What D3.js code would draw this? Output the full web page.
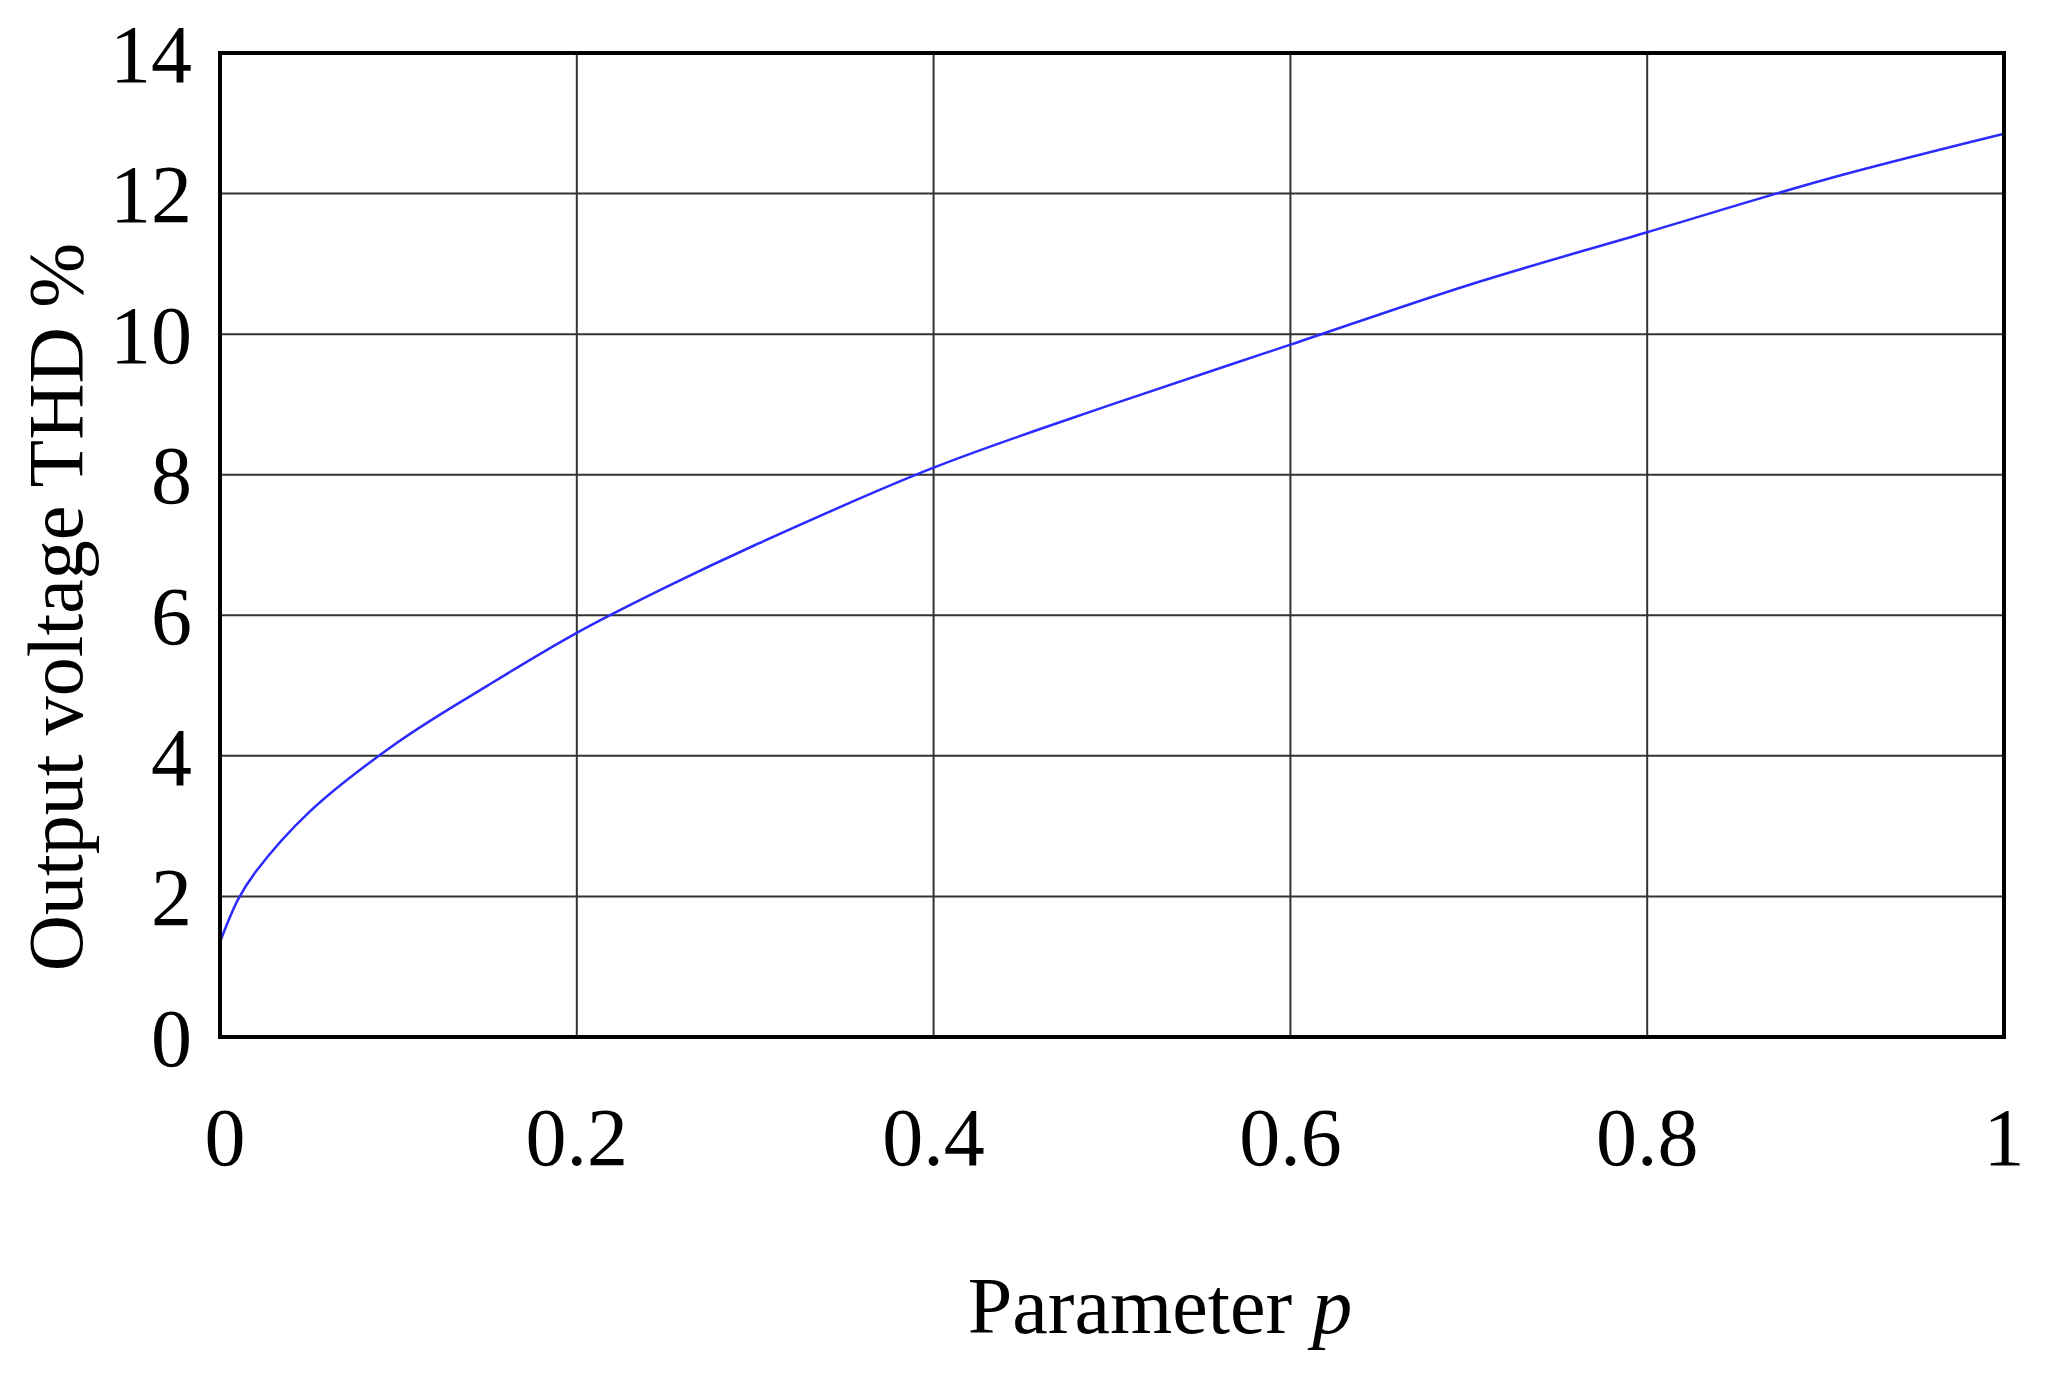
<!DOCTYPE html>
<html><head><meta charset="utf-8">
<script src="https://cdn.jsdelivr.net/npm/d3@7"></script>
<style>body{margin:0;background:#fff}</style>
</head><body><svg id="c" width="2066" height="1393"></svg>
<script>
var pValues = [0, 0.01, 0.02, 0.05, 0.1, 0.15, 0.2, 0.25, 0.3, 0.4, 0.5, 0.6, 0.7, 0.8, 0.9, 1.0];
var thdValues = [1.35, 1.95, 2.35, 3.2, 4.2, 5.0, 5.75, 6.4, 7.0, 8.1, 9.0, 9.85, 10.7, 11.45, 12.2, 12.85];
var xTicks = [0, 0.2, 0.4, 0.6, 0.8, 1];
var yTicks = [0, 2, 4, 6, 8, 10, 12, 14];

var margin = {top: 53, right: 62, bottom: 356, left: 220},
    width = 2066 - margin.left - margin.right,
    height = 1393 - margin.top - margin.bottom;

var svg = d3.select("#c");
var g = svg.append("g").attr("transform", "translate(" + margin.left + "," + margin.top + ")");

var x = d3.scaleLinear().domain([0, 1]).range([0, width]);
var y = d3.scaleLinear().domain([0, 14]).range([height, 0]);
var font = "'Liberation Serif', 'DejaVu Serif', serif";

// grid
g.selectAll(".vg").data(xTicks).enter().append("line")
    .attr("x1", d => x(d)).attr("x2", d => x(d)).attr("y1", 0).attr("y2", height)
    .attr("stroke", "#333").attr("stroke-width", 2);
g.selectAll(".hg").data(yTicks).enter().append("line")
    .attr("x1", 0).attr("x2", width).attr("y1", d => y(d)).attr("y2", d => y(d))
    .attr("stroke", "#333").attr("stroke-width", 2);

// curve
var line = d3.line().x((d, i) => x(pValues[i])).y(d => y(d)).curve(d3.curveCatmullRom.alpha(0.5));
g.append("path").datum(thdValues).attr("d", line)
    .attr("fill", "none").attr("stroke", "#2b2bff").attr("stroke-width", 2.5);

// frame
g.append("rect").attr("width", width).attr("height", height)
    .attr("fill", "none").attr("stroke", "#000").attr("stroke-width", 4);

// tick labels
g.selectAll(".yl").data(yTicks).enter().append("text")
    .attr("x", -28).attr("y", d => y(d)).attr("dy", "0.35em")
    .attr("text-anchor", "end").attr("font-family", font).attr("font-size", 82)
    .text(d => d);
g.selectAll(".xl").data(xTicks).enter().append("text")
    .attr("x", d => x(d) + (d === 0 ? 5 : 0)).attr("y", height + 128)
    .attr("text-anchor", "middle").attr("font-family", font).attr("font-size", 82)
    .text(d => d);

// axis titles
var xt = svg.append("text").attr("x", 1160).attr("y", 1333)
    .attr("text-anchor", "middle").attr("font-family", font).attr("font-size", 80);
xt.append("tspan").text("Parameter ");
xt.append("tspan").attr("font-style", "italic").text("p");

svg.append("text").attr("transform", "translate(82,607) rotate(-90)")
    .attr("text-anchor", "middle").attr("font-family", font).attr("font-size", 78)
    .text("Output voltage THD %");
</script></body></html>
